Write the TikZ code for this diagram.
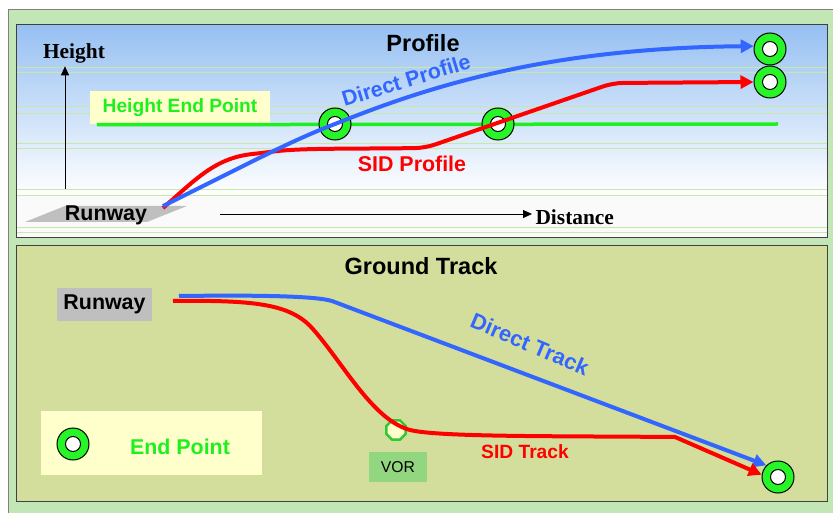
\documentclass[tikz,border=0pt]{standalone}
\usepackage{fontspec}
\setmainfont{Liberation Sans}
\newfontfamily\axisfont{Liberation Serif}
\usepackage{tikz}
\usetikzlibrary{arrows.meta,shapes.geometric}
\definecolor{framegreen}{RGB}{194,230,182}
\definecolor{skyblue}{RGB}{150,192,242}
\definecolor{groundolive}{RGB}{211,222,156}
\definecolor{paleyellow}{RGB}{255,255,204}
\definecolor{brightgreen}{RGB}{30,240,30}
\definecolor{ringgreen}{RGB}{40,245,40}
\definecolor{lineblue}{RGB}{51,102,255}
\definecolor{linered}{RGB}{255,0,0}
\definecolor{gridgreen}{RGB}{200,232,170}
\definecolor{vorgreen}{RGB}{146,214,128}
\definecolor{voredge}{RGB}{50,200,50}

\begin{document}
\begin{tikzpicture}[x=1pt, y=-1pt,
  panel/.style={draw=black!75, line width=1pt},
  ring/.style={circle, draw=black, line width=1pt, fill=ringgreen,
    minimum size=32pt, inner sep=0pt,
    path picture={\draw[fill=white, line width=1pt]
      (path picture bounding box.center) circle (7.5pt);}},
  title/.style={font=\fontsize{23.5}{26}\selectfont\bfseries},
  lbl/.style={font=\fontsize{21.4}{24}\selectfont\bfseries},
  axis/.style={font=\axisfont\fontsize{21.4}{24}\selectfont\bfseries},
  tip/.style={-{Triangle[length=13pt,width=13pt]}},
  direct/.style={draw=lineblue, line width=4pt, tip},
  sid/.style={draw=linered, line width=4pt, tip}]
  \useasboundingbox (0,0) rectangle (833,513);
  \fill[white] (0,0) rectangle (833,513);
  \draw[fill=framegreen, draw=black!50] (8,9) rectangle (840,520);

  \shade[top color=skyblue, bottom color=white] (16,25) rectangle (827,195);
  \fill[black!2] (16,195) rectangle (827,238);
  \foreach \y in {67,72,106,113,143,148,189,195,227,232}
    \draw[gridgreen, line width=0.8pt] (16,\y) -- (827,\y);
  \draw[panel] (16,25) rectangle (827,238);
  \draw[panel, fill=groundolive] (16,246) rectangle (827,501);

  \node[title] (proftitle) at (423,43) {Profile};
  \node[title] (groundtitle) at (421,266) {Ground Track};

  \fill[black!25] (25,222) -- (65,206) -- (187,206) -- (147,222) -- cycle;
  \node[lbl] (profrunway) at (106,215) {Runway};
  \node[axis] (heightlbl) at (74,53) {Height};
  \node[axis, anchor=west] (distlbl) at (532,217) {Distance};
  \coordinate (hbase) at (65,189);
  \coordinate (dbase) at (220,214);
  \draw[-{Triangle[length=9pt,width=8pt]}, line width=0.8pt] (hbase) -- (heightlbl.south -| hbase);
  \draw[-{Triangle[length=9pt,width=8pt]}, line width=0.8pt] (dbase) -- (distlbl.west |- dbase);

  \node[fill=paleyellow, minimum width=180pt, minimum height=33pt,
    text=brightgreen, font=\fontsize{19.2}{22}\selectfont\bfseries]
    (hepbox) at (180,108) {Height End Point};
  \coordinate (hepend) at (778,124);
  \draw[brightgreen, line width=3.5pt] (hepbox.south west) ++(7,0) -- (hepend);

  \node[ring] (crossA) at (335,124) {};
  \node[ring] (crossB) at (498,124) {};
  \node[ring] (endA) at (770,49) {};
  \node[ring] (endB) at (770,82) {};

  \coordinate (dpstart) at (163,206);
  \coordinate (rpstart) at (163,208);
  \draw[sid, rounded corners=10pt] (rpstart) .. controls (195,180) and (215,158) .. (262,153)
    .. controls (300,148) and (340,149) .. (425,148) -- (613,83) -- (endB.west);
  \draw[direct] (dpstart) .. controls (240,168) and (290,141) .. (crossA.center)
    .. controls (420,90) and (540,48) .. (endA.170);
  \node[lbl, text=lineblue, rotate=17] (dplbl) at (406,80) {Direct Profile};
  \node[lbl, text=linered] (splbl) at (412,164) {SID Profile};

  \node[fill=black!25, minimum width=95pt, minimum height=33pt, lbl]
    (gndrunway) at (104.5,304.5) {Runway};
  \node[fill=paleyellow, minimum width=221pt, minimum height=64pt] (legend) at (151.5,443) {};
  \node[ring] (legendring) at (73,444) {};
  \node[lbl, text=brightgreen] (legendlbl) at (180,447) {End Point};

  \node[regular polygon, regular polygon sides=8, draw=voredge, line width=2.5pt,
    fill=paleyellow, minimum size=21pt, inner sep=0pt] (vor) at (396,430) {};
  \node[fill=vorgreen, minimum width=58pt, minimum height=30pt,
    font=\fontsize{15.7}{18}\selectfont] (vorlbl) at (398,467) {VOR};

  \node[ring] (endG) at (778,477) {};
  \coordinate (dtstart) at (179,296);
  \coordinate (dtbend) at (332,301);
  \coordinate (ststart) at (173,301);
  \coordinate (stbend) at (675,437);
  \draw[direct] (dtstart) .. controls (260,295) and (315,296) .. (dtbend) -- (endG.135);
  \draw[sid] (ststart) .. controls (255,300) and (290,304) .. (312,328)
    .. controls (345,365) and (375,425) .. (415,431)
    .. controls (450,437) and (560,436) .. (stbend) -- (endG.172);
  \node[lbl, text=lineblue, rotate=-23, font=\fontsize{22}{24}\selectfont\bfseries]
    (dtlbl) at (530,344) {Direct Track};
  \node[lbl, text=linered, font=\fontsize{19.2}{22}\selectfont\bfseries]
    (stlbl) at (525,452) {SID Track};
\end{tikzpicture}
\end{document}
